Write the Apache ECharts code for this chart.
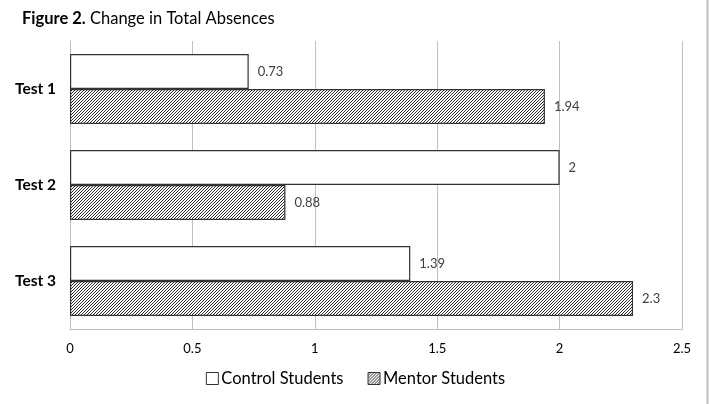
<!DOCTYPE html>
<html><head><meta charset="utf-8">
<script src="https://cdn.jsdelivr.net/npm/echarts@6/dist/echarts.min.js"></script>
<style>html,body{margin:0;padding:0;background:#fff}#c{width:711px;height:404px}</style>
</head><body><div id="c"></div>
<script>
var categories = ['Test 1', 'Test 2', 'Test 3'];
var controlValues = [0.73, 2, 1.39];
var mentorValues = [1.94, 0.88, 2.3];
var xTicks = [0, 0.5, 1, 1.5, 2, 2.5];

function hatch() {
  var n = 3;
  var c = document.createElement('canvas');
  c.width = n; c.height = n;
  var g = c.getContext('2d');
  g.fillStyle = '#fff'; g.fillRect(0, 0, n, n);
  for (var i = 0; i < n; i++) {
    g.fillStyle = '#2a2a2a'; g.fillRect(i, n - 1 - i, 1, 1);
  }
  return c;
}
var pat = {image: hatch(), repeat: 'repeat'};
var F = 'Lato, "Open Sans", sans-serif';
var chart = echarts.init(document.getElementById('c'), null, {renderer: 'canvas'});
chart.setOption({
  animation: false,
  title: {
    text: '{b|Figure 2.} Change in Total Absences',
    left: 17, top: 5,
    textStyle: {rich: {b: {fontWeight: 'bold', fontSize: 16.5, fontFamily: F, color: '#000'}}, fontSize: 16.5, fontWeight: 'normal', fontFamily: F, color: '#000'}
  },
  legend: {
    bottom: 12, left: 'center', itemWidth: 12, itemHeight: 12, itemGap: 24,
    textStyle: {fontSize: 16.5, fontFamily: F, color: '#000', padding: [0, 0, 0, -2]},
    data: [
      {name: 'Control Students', icon: 'rect', itemStyle: {color: '#fff', borderColor: '#333', borderWidth: 1}},
      {name: 'Mentor Students', icon: 'rect', itemStyle: {color: pat, borderColor: '#333', borderWidth: 1}}
    ]
  },
  grid: {left: 70, right: 29, top: 41, bottom: 75, containLabel: false},
  xAxis: {
    type: 'value', min: 0, max: 2.5, interval: 0.5,
    axisLine: {show: true, lineStyle: {color: '#bfbfbf'}}, axisTick: {show: false},
    splitLine: {lineStyle: {color: '#bfbfbf', width: 1}},
    axisLabel: {fontSize: 13, fontFamily: F, color: '#000', margin: 13,
      formatter: function (v) { return xTicks.indexOf(v) >= 0 ? String(v) : ''; }}
  },
  yAxis: {
    type: 'category', data: categories, inverse: true,
    axisLine: {lineStyle: {color: '#bfbfbf'}}, axisTick: {show: false},
    axisLabel: {fontSize: 15.5, fontWeight: 'bold', fontFamily: F, color: '#000', margin: 14}
  },
  series: [
    {name: 'Control Students', type: 'bar', data: controlValues, barWidth: 35, barGap: '0%',
      itemStyle: {color: '#fff', borderColor: '#333', borderWidth: 1.2},
      label: {show: true, position: 'right', distance: 9, fontSize: 13, fontFamily: F, color: '#404040'}},
    {name: 'Mentor Students', type: 'bar', data: mentorValues, barWidth: 35, barGap: '0%',
      itemStyle: {color: pat, borderColor: '#333', borderWidth: 1.2},
      label: {show: true, position: 'right', distance: 9, fontSize: 13, fontFamily: F, color: '#404040'}}
  ],
  graphic: [
    {type: 'line', shape: {x1: 707.5, y1: 0, x2: 707.5, y2: 404}, style: {stroke: '#bfbfbf', lineWidth: 2}}
  ]
});
</script></body></html>
